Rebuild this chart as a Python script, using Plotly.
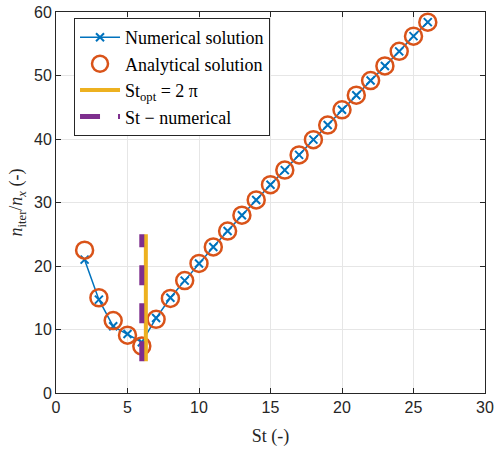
import numpy as np
import plotly.graph_objects as go

# Data
st = [2, 3, 4, 5, 6, 7, 8, 9, 10, 11, 12, 13, 14, 15, 16, 17, 18, 19, 20, 21, 22, 23, 24, 25, 26]
numerical = [21.0, 14.7, 10.5, 9.3, 8.0, 11.8, 15.0, 17.7, 20.4, 23.0, 25.5, 28.0, 30.4, 32.8,
             35.1, 37.5, 39.9, 42.2, 44.6, 46.9, 49.2, 51.5, 53.8, 56.2, 58.4]
analytical = [22.5, 15.0, 11.4, 9.1, 7.4, 11.6, 14.9, 17.7, 20.4, 23.0, 25.5, 28.0, 30.4, 32.8,
              35.1, 37.5, 39.9, 42.2, 44.6, 46.9, 49.2, 51.5, 53.8, 56.2, 58.4]
st_opt = 2 * np.pi
st_numerical = 6.0
vline_y = [5, 25]

xticks = [0, 5, 10, 15, 20, 25, 30]
yticks = [0, 10, 20, 30, 40, 50, 60]

serif = "Liberation Serif, DejaVu Serif, serif"
sans = "Liberation Sans, Arial, sans-serif"
axis_col = "#262626"

fig = go.Figure()
fig.add_trace(go.Scatter(
    x=st, y=numerical, mode="lines+markers", name="Numerical solution",
    line=dict(color="#0072BD", width=1.5),
    marker=dict(symbol="x-thin-open", size=8, line=dict(color="#0072BD", width=2), color="#0072BD"),
))
fig.add_trace(go.Scatter(
    x=st, y=analytical, mode="markers", name="Analytical solution",
    marker=dict(symbol="circle-open", size=17, line=dict(color="#D95319", width=2.5), color="#D95319"),
))
fig.add_trace(go.Scatter(
    x=[st_opt, st_opt], y=vline_y, mode="lines", name="St<sub>opt</sub> = 2 π",
    line=dict(color="#EDB120", width=4),
))
fig.add_trace(go.Scatter(
    x=[st_numerical, st_numerical], y=vline_y, mode="lines", name="St − numerical",
    line=dict(color="#7E2F8E", width=5, dash="20px,18px"),
))

axis_common = dict(
    showline=True, linecolor=axis_col, linewidth=1, mirror="ticks",
    ticks="inside", ticklen=5, tickcolor=axis_col,
    showgrid=True, gridcolor="#e6e6e6", gridwidth=1, zeroline=False,
    tickfont=dict(family=sans, size=16, color=axis_col),
    automargin=False, ticklabeloverflow="allow",
)

fig.update_layout(
    width=500, height=450,
    margin=dict(l=56, r=15, t=12, b=57),
    paper_bgcolor="white", plot_bgcolor="white",
    xaxis=dict(range=[0, 30], tickvals=xticks,
               title=dict(text="St (-)", font=dict(family=serif, size=18, color=axis_col), standoff=14),
               **axis_common),
    yaxis=dict(range=[0, 60], tickvals=yticks,
               title=dict(text="<i>n</i><sub>iter</sub>/<i>n</i><sub><i>x</i></sub> (-)",
                          font=dict(family=serif, size=18, color=axis_col), standoff=6),
               **axis_common),
    legend=dict(x=0.042, y=0.984, xanchor="left", yanchor="top",
                bgcolor="white", bordercolor=axis_col, borderwidth=1,
                font=dict(family=serif, size=18, color="black"),
                tracegroupgap=0, itemwidth=40),
    showlegend=True,
)

fig.write_html("out.html", config={"displayModeBar": False},
               post_script="document.body.style.margin='0';")
